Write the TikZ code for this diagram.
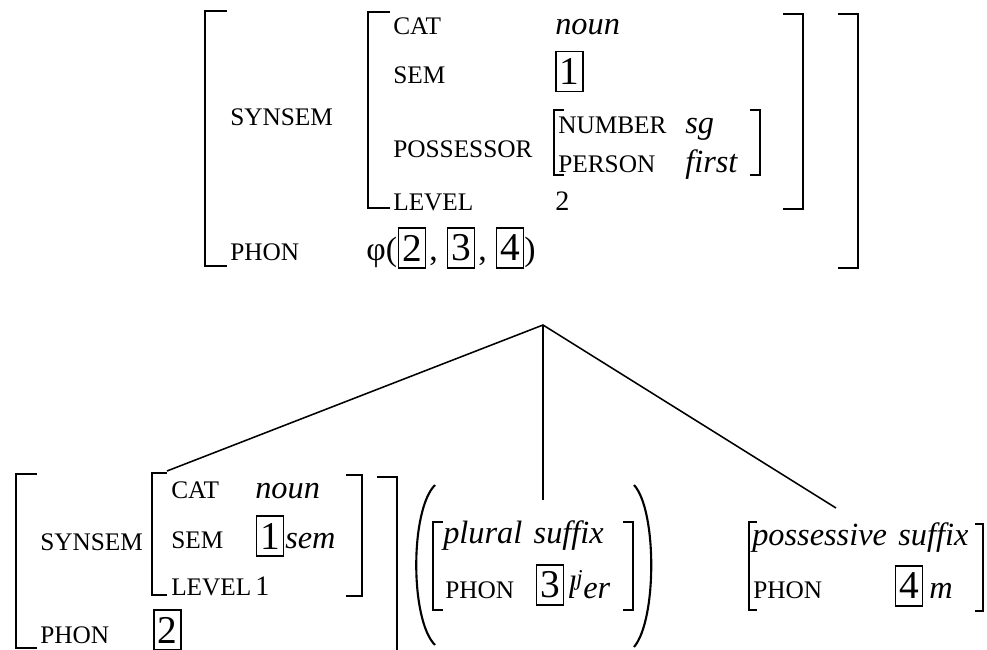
\documentclass[tikz,border=0pt]{standalone}
\usepackage{fontspec}
\setmainfont{Liberation Serif}
\usetikzlibrary{positioning}
\newcommand\attrfont{\fontsize{18}{21}\selectfont}
\newcommand\valfont{\fontsize{23}{27}\selectfont\itshape}
\newcommand\tagfont{\fontsize{28}{32}\selectfont}
\tikzset{attr/.style={font=\attrfont,anchor=base west,inner sep=0pt}, val/.style={font=\valfont,anchor=base west,inner sep=0pt},tag/.style={draw,line width=1pt,font=\tagfont,inner sep=0pt,minimum width=0.68cm,minimum height=1cm},brk/.style={line width=1.5pt},branch/.style={line width=1.1pt}}
\begin{document}
\begin{tikzpicture}[x=0.025cm,y=-0.025cm]
\useasboundingbox (0,0) rectangle (987,650);
% mother
\draw[brk](227,11)-|(205,266)--(227,266);\draw[brk](838,14)-|(858,268)--(838,268);
\draw[brk](390,12)-|(368,208)--(390,208);\draw[brk](783,14)-|(803,209)--(783,209);
\draw[brk](564,110)-|(554,175)--(564,175);\draw[brk](750,110)-|(760,175)--(750,175);
\node[attr](synsem)at(230,126){SYNSEM};\node[attr](phon)at(230,260){PHON};
\node[attr](cat)at(393,35){CAT};\node[val](noun)at(555,35){noun};
\node[attr](sem)at(393,83){SEM};\node[tag](t1)at(569.5,71.5){1};
\node[attr](poss)at(393,157){POSSESSOR};
\node[attr](number)at(558,133){NUMBER};\node[val](sg)at(685,133){sg};
\node[attr](person)at(558,172){PERSON};\node[val](first)at(685,172){first};
\node[attr](level)at(393,210){LEVEL};\node[attr,font=\fontsize{20}{24}\selectfont](two)at(555,210){2};
\node[attr,font=\fontsize{24}{28}\selectfont](phi)at(366,260){φ(};
\node[tag](t2)at(412,248){2};\node[attr,font=\fontsize{24}{28}\selectfont](c1)at(429,260){,};
\node[tag](t3)at(461,248){3};\node[attr,font=\fontsize{24}{28}\selectfont](c2)at(478,260){,};
\node[tag](t4)at(510,248){4};\node[attr,font=\fontsize{24}{28}\selectfont](rp)at(524,260){)};
% branches
\coordinate(apex)at(543,325);\coordinate(stem)at(167,471);\coordinate(plu)at(543,500);\coordinate(pos)at(836,508);
\draw[branch](stem)--(apex)--(pos);\draw[branch](apex)--(plu);
% stem daughter
\draw[brk](37,474)-|(16,648)--(37,648);\draw[brk](377,477)-|(397,652);
\draw[brk](167,473)-|(152,595)--(167,595);\draw[brk](346,475)-|(362,596)--(346,596);
\node[attr](dsynsem)at(40,550){SYNSEM};\node[attr](dphon)at(40,643){PHON};\node[tag](dt2)at(167.5,630){2};
\node[attr](dcat)at(171,498){CAT};\node[val](dnoun)at(255,498){noun};
\node[attr](dsem)at(171,548){SEM};\node[tag](dt1)at(270,536){1};\node[val](dsemv)at(285,548){sem};
\node[attr](dlevel)at(171,595){LEVEL};\node[attr,font=\fontsize{20}{24}\selectfont](done)at(255,595){1};
% plural suffix
\draw[brk](435,485)..controls(410,510)and(410,620)..(435,645);\draw[brk](634,485)..controls(657,510)and(657,620)..(634,647);
\draw[brk](443,522)-|(433,610)--(443,610);\draw[brk](623,522)-|(633,610)--(623,610);
\node[val](plural)at(443,543){plural\hspace{0.1em} suffix};
\node[attr](pphon)at(445,598){PHON};\node[tag](t3b)at(550,585){3};\node[val](ler)at(567,598){l\textsuperscript{j}er};
% possessive suffix
\draw[brk](757,522)-|(749,610)--(757,610);\draw[brk](975,524)-|(983,611)--(975,611);
\node[val](possv)at(752,545){possessive\hspace{0.1em} suffix};
\node[attr](sphon)at(753,598){PHON};\node[tag](t4b)at(909,586){4};\node[val](m)at(929,598){m};
\end{tikzpicture}
\end{document}
